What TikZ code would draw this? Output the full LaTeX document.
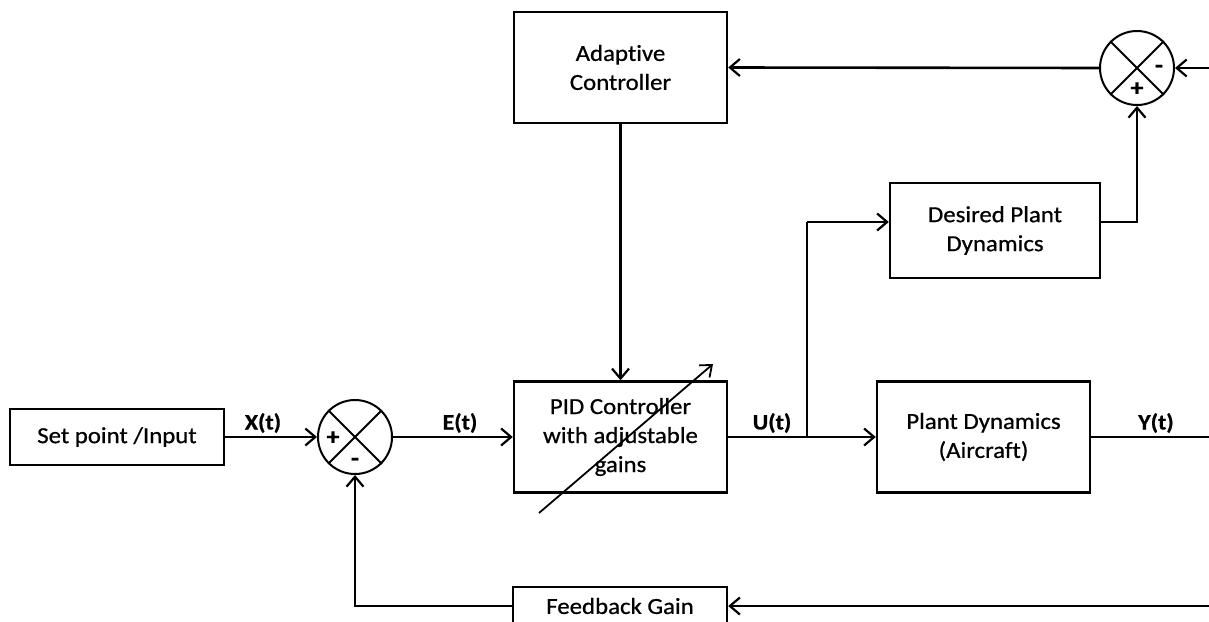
\documentclass[tikz,border=0pt]{standalone}
\usepackage{fontspec}
\setmainfont{Carlito}[FakeStretch=1.08,FakeBold=0.7,Ligatures=NoCommon]
\usetikzlibrary{arrows.meta,calc}
\tikzset{
  block/.style={draw, line width=2.4pt, rectangle, align=center, inner sep=0pt,
    font=\fontsize{23}{29}\selectfont},
  sumnode/.style={draw, line width=2pt, circle, minimum size=74pt, inner sep=0pt},
  wire/.style={line width=2.6pt},
  arr/.style={wire, -{Straight Barb[length=10pt,width=17pt,line width=2.2pt]}},
  sig/.style={font=\fontsize{22}{26}\selectfont\bfseries},
  sgn/.style={font=\fontsize{24}{26}\selectfont\bfseries, inner sep=0pt}
}
\begin{document}
\begin{tikzpicture}[x=1pt,y=-1pt]
\useasboundingbox (0,0) rectangle (1209,621);
\clip (0,0) rectangle (1209,621);

% blocks
\node[block, minimum width=214pt, minimum height=56pt] (setpt) at (117,437) {Set point /Input};
\node[block, minimum width=213pt, minimum height=111pt] (adapt) at (620.5,67.5) {Adaptive\\Controller};
\node[block, minimum width=213pt, minimum height=111pt] (pid) at (620.5,437) {PID Controller\\with adjustable\\gains};
\node[block, minimum width=210pt, minimum height=95pt] (desired) at (995,230.5) {Desired Plant\\Dynamics};
\node[block, minimum width=213pt, minimum height=111pt] (plant) at (983.5,437) {Plant Dynamics\\(Aircraft)};
\node[block, minimum width=214pt, minimum height=38pt] (fb) at (620,606) {Feedback Gain};

% summing junctions
\node[sumnode] (sum1) at (355,437) {};
\node[sumnode] (sum2) at (1137,68) {};
\foreach \s in {sum1,sum2}{
  \draw[line width=1.8pt] (\s.north west) -- (\s.south east);
  \draw[line width=1.8pt] (\s.north east) -- (\s.south west);
}
\node[sgn] (p1) at ($(sum1)+(-22,1)$) {+};
\node[sgn] (m1) at ($(sum1)+(0,25)$) {-};
\node[sgn] (m2) at ($(sum2)+(22,1)$) {-};
\node[sgn] (p2) at ($(sum2)+(0,21)$) {+};

% free ends and branch points
\coordinate (branch) at (807,437);
\coordinate (dline) at (807,222);
\coordinate (rin) at (1209,68);
\coordinate (yout) at (1209,437);
\coordinate (fbin) at (1209,606);
\coordinate (tuneA) at (539,513);
\coordinate (tuneB) at (713,364);

% connectors
\draw[arr] (setpt.east) -- (sum1.west);
\draw[arr] (sum1.east) -- (pid.west);
\draw[wire] (pid.east) -- (branch);
\draw[arr] (branch) -- (plant.west);
\draw[wire] (branch) -- (dline);
\draw[arr] (dline) -- (dline -| desired.west);
\draw[arr] (dline -| desired.east) -| (sum2.south);
\draw[arr] (rin) -- (sum2.east);
\draw[arr] (sum2.west) -- (adapt.east);
\draw[arr] (adapt.south) -- (pid.north);
\draw[wire] (plant.east) -- (yout);
\draw[arr] (fbin) -- (fb.east);
\draw[arr] (fb.west) -| (sum1.south);
\draw[line width=1.8pt, -{Straight Barb[length=10pt,width=16pt,line width=1.8pt]}] (tuneA) -- (tuneB);

% signal labels
\node[sig] (lx) at (263,423) {X(t)};
\node[sig] (le) at (460,423) {E(t)};
\node[sig] (lu) at (772,423) {U(t)};
\node[sig] (ly) at (1156,423) {Y(t)};
\end{tikzpicture}
\end{document}
